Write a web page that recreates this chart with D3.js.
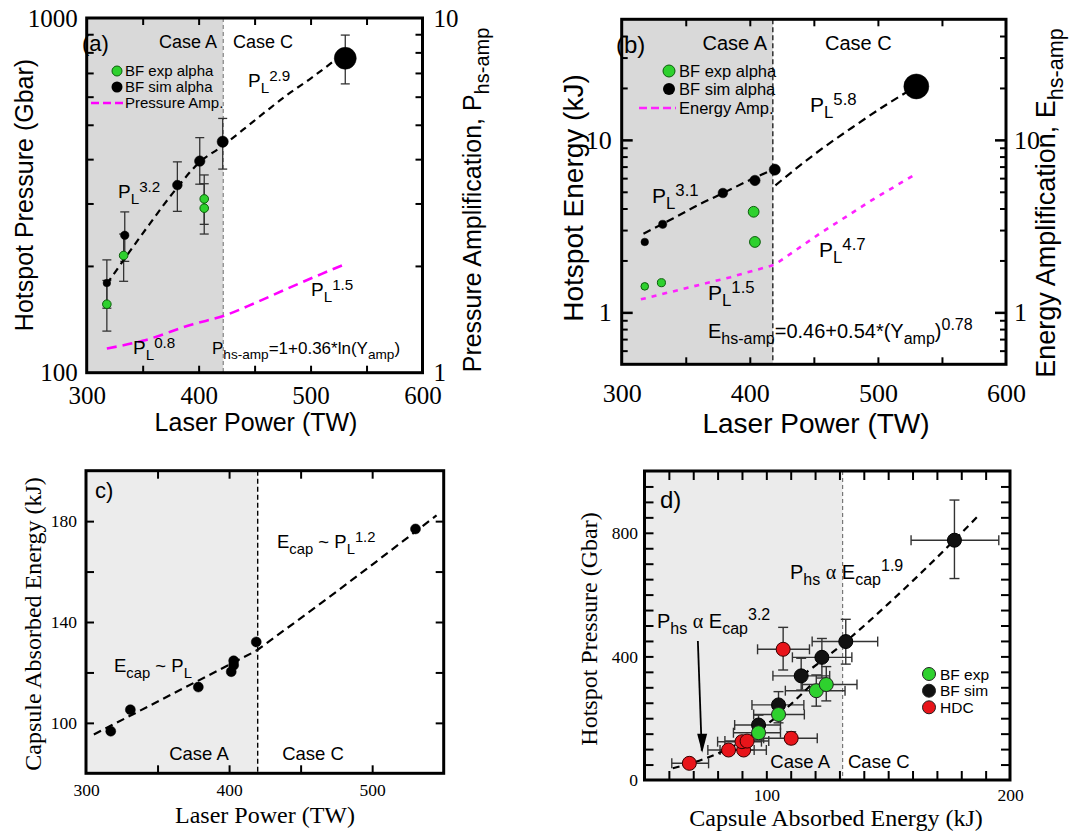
<!DOCTYPE html>
<html><head><meta charset="utf-8">
<script src="https://cdn.jsdelivr.net/npm/d3@7"></script>
<style>body{margin:0;background:#fff}</style>
</head><body><svg id="c" width="1071" height="833"></svg>
<script>
// ================= DATA =================
// Case A / Case C boundaries (laser power, TW) for panels a, b, c ; capsule energy (kJ) for panel d
const caseTW = [422, 418, 420];
const caseKJ = 131.3;

// ---- panel a: hotspot pressure (Gbar) vs laser power (TW)
const aSimTW = [318, 334, 381, 401, 421.5, 531];
const aSimP  = [179, 244, 338, 395, 448, 770];
const aSimLo = [152, 206, 285, 340, 375, 652];
const aSimHi = [208, 284, 393, 460, 521, 895];
const aExpTW = [318, 333, 405, 405];
const aExpP  = [156, 214, 309, 291];
const aExpLo = [131, 181, 262, 246];
const aExpHi = [182, 246, 361, 341];
const aFitTW = [318, 335, 356, 380, 400, 421, 440, 460, 480, 500, 524];
const aFitP  = [178, 212, 262, 330, 390, 435, 485, 545, 610, 675, 770];
const aAmpTW = [318, 350, 395, 422, 450, 480, 510, 532];
const aAmp   = [1.17, 1.23, 1.37, 1.445, 1.57, 1.73, 1.9, 2.03];

// ---- panel b: hotspot energy (kJ) vs laser power (TW)
const bSimTW = [318, 332, 379, 404, 419.5, 530];
const bSimE  = [2.56, 3.24, 4.92, 5.82, 6.72, 20.4];
const bExpTW = [318, 331, 403, 404];
const bExpE  = [1.415, 1.486, 3.83, 2.56];
const bFit1TW = [317, 340, 360, 380, 400, 419.5];
const bFit1E  = [2.86, 3.5, 4.2, 4.95, 5.85, 6.8];
const bFit2TW = [420, 450, 480, 510, 529];
const bFit2E  = [5.45, 8.2, 11.8, 16.6, 20.2];
const bAmpTW = [315, 350, 385, 419.5, 454.6, 495, 530];
const bAmp   = [1.19, 1.38, 1.6, 1.89, 2.86, 4.46, 6.37];

// ---- panel c: capsule absorbed energy (kJ) vs laser power (TW)
const cTW = [317.3, 331, 378.5, 401.5, 403.2, 403.2, 419, 530.3];
const cE  = [96.7, 105.2, 114.2, 120.3, 122.9, 124.6, 132.1, 176.9];
const cFit1TW = [305.5, 419];
const cFit1E  = [95.4, 128.6];
const cFit2TW = [419, 482, 545];
const cFit2E  = [128.6, 155, 182.3];

// ---- panel d: hotspot pressure (Gbar) vs capsule absorbed energy (kJ)
const dSimE   = [96.8, 105, 114.3, 122.8, 132.6, 177.2];
const dSimP   = [178, 243, 337, 397, 448, 776];
const dSimXLo = [87, 94.1, 102.7, 110.7, 118.8, 159.4];
const dSimXHi = [105.8, 115.4, 126, 135.1, 145.7, 195.4];
const dSimYLo = [150, 205, 291, 330, 375, 652];
const dSimYHi = [210, 286, 394, 458, 520, 906];
const dExpE   = [96.8, 105, 120.5, 124.6];
const dExpP   = [153, 212, 289, 309];
const dExpXLo = [86.5, 94.8, 107.8, 114.8];
const dExpXHi = [105.8, 115.6, 132.3, 137.2];
const dExpYLo = [130, 185, 239, 256];
const dExpYHi = [175, 240, 340, 367];
const dHdcE   = [68.4, 84.5, 90.7, 90.0, 92.1, 106.9, 110.2];
const dHdcP   = [54, 97, 97, 124, 126, 423, 135];
const dHdcXLo = [61.2, 76, 81, 80, 83, 96.4, 98.9];
const dHdcXHi = [76.3, 95, 100, 98, 101, 117.7, 120.9];
const dHdcYLo = [45, 85, 85, 110, 112, 356, 118];
const dHdcYHi = [65, 110, 110, 140, 142, 494, 156];
const dFit1E = [61.6, 75, 90, 105, 118];
const dFit1P = [38, 70, 125, 210, 305];
const dFit2E = [115, 132.6, 150, 170, 187.6];
const dFit2P = [340, 448, 570, 720, 860];

// tick values
const aXTicks = [350, 400, 450, 500, 550];
const aXLabels = [300, 400, 500, 600];
const aYMinor = [200, 300, 400, 500, 600, 700, 800, 900];
const aYLabels = [100, 1000];
const aY2Minor = [2, 3, 4, 5, 6, 7, 8, 9];
const aY2Labels = [1, 10];
const bYMinor = [0.6, 0.7, 0.8, 0.9, 2, 3, 4, 5, 6, 7, 8, 9, 20, 30, 40];
const bYMajor = [1, 10];
const cXTicks = [350, 400, 450, 500];
const cXLabels = [300, 400, 500];
const cYTicks = [100, 120, 140, 160, 180];
const cYLabels = [100, 140, 180];
const dXTicks = d3.range(60, 200, 10);
const dXLabels = [100, 200];
const dYTicks = d3.range(50, 1000, 50);
const dYLabels = [0, 400, 800];

// ================= DRAWING =================
const SANS = "'Liberation Sans', Arial, Helvetica, sans-serif";
const SERIF = "'Liberation Serif', 'Times New Roman', Times, serif";
const GREEN = '#2ed12e', GREEN_S = '#0b5e0b', RED = '#e8141a';
const svg = d3.select('#c');
svg.append('rect').attr('width', 1071).attr('height', 833).attr('fill', '#fff');

function zip(a, b) { return a.map((v, i) => [v, b[i]]); }

function rich(g, x, y, parts, size, opts = {}) {
  const t = g.append('text').attr('font-family', opts.family || SANS)
    .attr('font-size', size).attr('fill', '#000');
  if (opts.transform) t.attr('transform', opts.transform); else t.attr('x', x).attr('y', y);
  if (opts.anchor) t.attr('text-anchor', opts.anchor);
  const supShift = opts.sup || 0.33;
  let off = 0;
  parts.forEach(p => {
    const [s, kind, fam] = typeof p === 'string' ? [p, '', null] : p;
    const target = kind === 'sub' ? 0.3 * size : kind === 'sup' ? -supShift * size : 0;
    const ts = t.append('tspan').attr('dy', target - off).text(s)
      .attr('font-size', kind === 'sub' ? size * 0.8 : kind === 'sup' ? size * 0.8 : size);
    if (fam) ts.attr('font-family', fam);
    off = target;
  });
  return t;
}

function ticks(g, orient, scale, vals, pos, len, width) {
  const gen = { b: d3.axisBottom, t: d3.axisTop, l: d3.axisLeft, r: d3.axisRight }[orient](scale)
    .tickValues(vals).tickSizeInner(-len).tickSizeOuter(0).tickFormat('');
  const s = g.append('g')
    .attr('transform', (orient === 'b' || orient === 't') ? `translate(0,${pos})` : `translate(${pos},0)`)
    .call(gen);
  s.select('.domain').remove();
  s.selectAll('line').attr('stroke', '#000').attr('stroke-width', width || 2);
  return s;
}
function labels(g, orient, scale, vals, pos, pad, size, fmt) {
  const gen = { b: d3.axisBottom, t: d3.axisTop, l: d3.axisLeft, r: d3.axisRight }[orient](scale)
    .tickValues(vals).tickSize(0).tickPadding(pad).tickFormat(fmt || (d => d));
  const s = g.append('g')
    .attr('transform', (orient === 'b' || orient === 't') ? `translate(0,${pos})` : `translate(${pos},0)`)
    .call(gen);
  s.select('.domain').remove();
  s.selectAll('line').remove();
  s.selectAll('text').attr('font-family', SERIF).attr('font-size', size).attr('fill', '#000');
  return s;
}
function frame(g, x, y) {
  const [L, R] = x.range(), [B, T] = y.range();
  g.append('rect').attr('x', L).attr('y', T).attr('width', R - L).attr('height', B - T)
    .attr('fill', 'none').attr('stroke', '#000').attr('stroke-width', 3);
}
function vbars(g, x, y, xs, lo, hi, cap, color, w) {
  xs.forEach((xv, i) => {
    const X = x(xv), Y1 = y(lo[i]), Y2 = y(hi[i]);
    g.append('line').attr('x1', X).attr('x2', X).attr('y1', Y1).attr('y2', Y2).attr('stroke', color).attr('stroke-width', w);
    [Y1, Y2].forEach(Y => g.append('line').attr('x1', X - cap).attr('x2', X + cap).attr('y1', Y).attr('y2', Y).attr('stroke', color).attr('stroke-width', w));
  });
}
function hbars(g, x, y, ys, lo, hi, cap, color, w) {
  ys.forEach((yv, i) => {
    const Y = y(yv), X1 = x(lo[i]), X2 = x(hi[i]);
    g.append('line').attr('x1', X1).attr('x2', X2).attr('y1', Y).attr('y2', Y).attr('stroke', color).attr('stroke-width', w);
    [X1, X2].forEach(X => g.append('line').attr('x1', X).attr('x2', X).attr('y1', Y - cap).attr('y2', Y + cap).attr('stroke', color).attr('stroke-width', w));
  });
}
function pts(g, x, y, data, rFn, fill, stroke, sw) {
  g.selectAll(null).data(data).enter().append('circle')
    .attr('cx', d => x(d[0])).attr('cy', d => y(d[1])).attr('r', rFn)
    .attr('fill', fill).attr('stroke', stroke).attr('stroke-width', sw);
}
function path(g, x, y, data, color, w, dash, curve) {
  const line = d3.line().x(d => x(d[0])).y(d => y(d[1])).curve(curve || d3.curveMonotoneX);
  g.append('path').attr('d', line(data)).attr('fill', 'none').attr('stroke', color)
    .attr('stroke-width', w).attr('stroke-dasharray', dash);
}

// ---------------- Panel a ----------------
(function () {
  const g = svg.append('g');
  const x = d3.scaleLinear([300, 600], [86.7, 422.5]);
  const y = d3.scaleLog([100, 1000], [372.7, 18]);
  const y2 = d3.scaleLog([1, 10], [372.7, 18]);
  const [L, R] = x.range(), [B, T] = y.range();
  g.append('rect').attr('x', L).attr('y', T).attr('width', x(caseTW[0]) - L).attr('height', B - T).attr('fill', '#d9d9d9');
  g.append('line').attr('x1', x(caseTW[0])).attr('x2', x(caseTW[0])).attr('y1', T).attr('y2', B)
    .attr('stroke', '#8c8c8c').attr('stroke-width', 1.3).attr('stroke-dasharray', '4,3');
  g.append('text').attr('x', 82).attr('y', 51).attr('font-family', SANS).attr('font-size', 22).text('(a)');
  g.append('text').attr('x', 217).attr('y', 48).attr('text-anchor', 'end').attr('font-family', SANS).attr('font-size', 18).text('Case A');
  g.append('text').attr('x', 233).attr('y', 48).attr('font-family', SANS).attr('font-size', 18).text('Case C');

  vbars(g, x, y, aSimTW, aSimLo, aSimHi, 4.5, '#333', 1.3);
  vbars(g, x, y, aExpTW, aExpLo, aExpHi, 4.5, '#333', 1.3);
  path(g, x, y, zip(aFitTW, aFitP), '#000', 2.2, '7,5');
  path(g, x, y2, zip(aAmpTW, aAmp), '#ff00ff', 2.6, '10,6');
  const rA = d3.scaleLinear([179, 448, 770], [3.8, 5.6, 11]);
  pts(g, x, y, zip(aSimTW, aSimP), d => rA(d[1]), '#000', '#000', 0.5);
  pts(g, x, y, zip(aExpTW, aExpP), 4.3, GREEN, GREEN_S, 1);

  // legend
  g.append('circle').attr('cx', 117).attr('cy', 71).attr('r', 5).attr('fill', GREEN).attr('stroke', GREEN_S);
  g.append('circle').attr('cx', 117).attr('cy', 87).attr('r', 5.5).attr('fill', '#000');
  g.append('line').attr('x1', 91).attr('x2', 124).attr('y1', 103).attr('y2', 103).attr('stroke', '#ff00ff').attr('stroke-width', 2.5).attr('stroke-dasharray', '8,4');
  [['BF exp alpha', 76], ['BF sim alpha', 92], ['Pressure Amp.', 108]].forEach(([s, yy]) =>
    g.append('text').attr('x', 125).attr('y', yy).attr('font-family', SANS).attr('font-size', 15).text(s));

  rich(g, 248, 87, ['P', ['L', 'sub'], ['2.9', 'sup']], 19);
  rich(g, 118, 198, ['P', ['L', 'sub'], ['3.2', 'sup']], 19);
  rich(g, 311, 296, ['P', ['L', 'sub'], ['1.5', 'sup']], 19);
  rich(g, 133, 354, ['P', ['L', 'sub'], ['0.8', 'sup']], 19);
  rich(g, 212, 354, ['P', ['hs-amp', 'sub'], ['=1+0.36*ln(Y', ''], ['amp', 'sub'], [')', '']], 17);

  frame(g, x, y);
  ticks(g, 'b', x, aXTicks, B, 7); ticks(g, 't', x, aXTicks, T, 7);
  ticks(g, 'l', y, aYMinor, L, 7); ticks(g, 'r', y2, aY2Minor, R, 7);
  labels(g, 'b', x, aXLabels, B, 14, 25);
  labels(g, 'l', y, aYLabels, L, 9, 25);
  labels(g, 'r', y2, aY2Labels, R, 11, 25);

  g.append('text').attr('transform', 'translate(33,195) rotate(-90)').attr('text-anchor', 'middle')
    .attr('font-family', SANS).attr('font-size', 25).text('Hotspot Pressure (Gbar)');
  rich(g, 0, 0, ['Pressure Amplification, P', ['hs-amp', 'sub']], 25, { transform: 'translate(481,200) rotate(-90)', anchor: 'middle' });
  g.append('text').attr('x', 256).attr('y', 431).attr('text-anchor', 'middle')
    .attr('font-family', SANS).attr('font-size', 25).text('Laser Power (TW)');
})();

// ---------------- Panel b ----------------
(function () {
  const g = svg.append('g');
  const x = d3.scaleLinear([300, 600], [621.7, 1006]);
  const y = d3.scaleLog([0.5, 50], [364.3, 19.3]);
  const [L, R] = x.range(), [B, T] = y.range();
  g.append('rect').attr('x', L).attr('y', T).attr('width', x(caseTW[1]) - L).attr('height', B - T).attr('fill', '#d9d9d9');
  g.append('line').attr('x1', x(caseTW[1])).attr('x2', x(caseTW[1])).attr('y1', T).attr('y2', B)
    .attr('stroke', '#000').attr('stroke-width', 1.2).attr('stroke-dasharray', '5,3');
  g.append('text').attr('x', 616).attr('y', 53).attr('font-family', SANS).attr('font-size', 24).text('(b)');
  g.append('text').attr('x', 767).attr('y', 50).attr('text-anchor', 'end').attr('font-family', SANS).attr('font-size', 20).text('Case A');
  g.append('text').attr('x', 825).attr('y', 50).attr('font-family', SANS).attr('font-size', 20).text('Case C');

  path(g, x, y, zip(bFit1TW, bFit1E), '#000', 2.2, '8,5');
  path(g, x, y, zip(bFit2TW, bFit2E), '#000', 2.2, '8,5');
  path(g, x, y, zip(bAmpTW, bAmp), '#ff22ff', 2.6, '5,6', d3.curveLinear);
  const rB = d3.scaleLinear([2.56, 6.72, 20.4], [3.8, 5.6, 12.5]);
  pts(g, x, y, zip(bSimTW, bSimE), d => rB(d[1]), '#000', '#000', 0.5);
  const rG = d3.scaleLinear([318, 404], [3.8, 5.4]);
  pts(g, x, y, zip(bExpTW, bExpE), d => rG(d[0]), GREEN, GREEN_S, 1);

  g.append('circle').attr('cx', 669).attr('cy', 71).attr('r', 6).attr('fill', GREEN).attr('stroke', GREEN_S);
  g.append('circle').attr('cx', 669).attr('cy', 89).attr('r', 6).attr('fill', '#000');
  g.append('line').attr('x1', 639).attr('x2', 676).attr('y1', 108).attr('y2', 108).attr('stroke', '#ff22ff').attr('stroke-width', 2.5).attr('stroke-dasharray', '8,4');
  [['BF exp alpha', 77], ['BF sim alpha', 95], ['Energy Amp.', 114]].forEach(([s, yy]) =>
    g.append('text').attr('x', 679).attr('y', yy).attr('font-family', SANS).attr('font-size', 16.5).text(s));

  rich(g, 652, 203, ['P', ['L', 'sub'], ['3.1', 'sup']], 21);
  rich(g, 810, 112, ['P', ['L', 'sub'], ['5.8', 'sup']], 21);
  rich(g, 819, 257, ['P', ['L', 'sub'], ['4.7', 'sup']], 21);
  rich(g, 708, 300, ['P', ['L', 'sub'], ['1.5', 'sup']], 21);
  rich(g, 708, 338, ['E', ['hs-amp', 'sub'], ['=0.46+0.54*(Y', ''], ['amp', 'sub'], [')', ''], ['0.78', 'sup']], 20, { sup: 0.4 });

  frame(g, x, y);
  ticks(g, 'b', x, aXTicks, B, 7); ticks(g, 't', x, aXTicks, T, 7);
  ticks(g, 'l', y, bYMinor, L, 6); ticks(g, 'r', y, bYMinor, R, 6);
  ticks(g, 'l', y, bYMajor, L, 11, 2.5); ticks(g, 'r', y, bYMajor, R, 11, 2.5);
  labels(g, 'b', x, aXLabels, B, 19, 26);
  labels(g, 'l', y, bYMajor, L, 10, 26);
  labels(g, 'r', y, bYMajor, R, 8, 26);

  g.append('text').attr('transform', 'translate(583,198) rotate(-90)').attr('text-anchor', 'middle')
    .attr('font-family', SANS).attr('font-size', 28).text('Hotspot Energy (kJ)');
  rich(g, 0, 0, ['Energy Amplification, E', ['hs-amp', 'sub']], 27, { transform: 'translate(1055,203) rotate(-90)', anchor: 'middle' });
  g.append('text').attr('x', 816).attr('y', 433).attr('text-anchor', 'middle')
    .attr('font-family', SANS).attr('font-size', 28).text('Laser Power (TW)');
})();

// ---------------- Panel c ----------------
(function () {
  const g = svg.append('g');
  const x = d3.scaleLinear([300, 550], [86, 443.7]);
  const y = d3.scaleLinear([80, 200], [773.3, 470.7]);
  const [L, R] = x.range(), [B, T] = y.range();
  g.append('rect').attr('x', L).attr('y', T).attr('width', x(caseTW[2]) - L).attr('height', B - T).attr('fill', '#ececec');
  g.append('line').attr('x1', x(caseTW[2])).attr('x2', x(caseTW[2])).attr('y1', T).attr('y2', B)
    .attr('stroke', '#000').attr('stroke-width', 1.4).attr('stroke-dasharray', '5,3');
  g.append('text').attr('x', 95).attr('y', 498).attr('font-family', SANS).attr('font-size', 22).text('c)');
  g.append('text').attr('x', 199).attr('y', 760).attr('text-anchor', 'middle').attr('font-family', SANS).attr('font-size', 18.5).text('Case A');
  g.append('text').attr('x', 313).attr('y', 760).attr('text-anchor', 'middle').attr('font-family', SANS).attr('font-size', 18.5).text('Case C');

  path(g, x, y, zip(cFit1TW, cFit1E), '#000', 2.2, '8,5', d3.curveLinear);
  path(g, x, y, zip(cFit2TW, cFit2E), '#000', 2.2, '8,5');
  pts(g, x, y, zip(cTW, cE), 5, '#000', '#000', 0.5);

  rich(g, 277, 548, ['E', ['cap', 'sub'], [' ~ P', ''], ['L', 'sub'], ['1.2', 'sup']], 18.5);
  rich(g, 114, 672, ['E', ['cap', 'sub'], [' ~ P', ''], ['L', 'sub']], 18.5);

  frame(g, x, y);
  ticks(g, 'b', x, cXTicks, B, 8); ticks(g, 't', x, cXTicks, T, 8);
  ticks(g, 'l', y, cYTicks, L, 8); ticks(g, 'r', y, cYTicks, R, 8);
  labels(g, 'b', x, cXLabels, B, 10, 17.5);
  labels(g, 'l', y, cYLabels, L, 9, 17.5);

  g.append('text').attr('transform', 'translate(41,624) rotate(-90)').attr('text-anchor', 'middle')
    .attr('font-family', SERIF).attr('font-size', 24).text('Capsule Absorbed Energy (kJ)');
  g.append('text').attr('x', 265).attr('y', 823).attr('text-anchor', 'middle')
    .attr('font-family', SERIF).attr('font-size', 24).text('Laser Power (TW)');
})();

// ---------------- Panel d ----------------
(function () {
  const g = svg.append('g');
  const x = d3.scaleLinear([50, 200], [644.5, 1010]);
  const y = d3.scaleLinear([0, 1000], [780, 471]);
  const [L, R] = x.range(), [B, T] = y.range();
  g.append('rect').attr('x', L).attr('y', T).attr('width', x(caseKJ) - L).attr('height', B - T).attr('fill', '#ebebeb');
  g.append('line').attr('x1', x(caseKJ)).attr('x2', x(caseKJ)).attr('y1', T).attr('y2', B)
    .attr('stroke', '#777').attr('stroke-width', 1.2).attr('stroke-dasharray', '4,3');
  g.append('text').attr('x', 660).attr('y', 508).attr('font-family', SANS).attr('font-size', 24).text('d)');
  g.append('text').attr('x', 830).attr('y', 768).attr('text-anchor', 'end').attr('font-family', SANS).attr('font-size', 18.5).text('Case A');
  g.append('text').attr('x', 848).attr('y', 768).attr('font-family', SANS).attr('font-size', 18.5).text('Case C');

  const ec = '#333';
  hbars(g, x, y, dSimP, dSimXLo, dSimXHi, 5, ec, 1.4);
  vbars(g, x, y, dSimE, dSimYLo, dSimYHi, 5, ec, 1.4);
  hbars(g, x, y, dExpP, dExpXLo, dExpXHi, 5, ec, 1.4);
  vbars(g, x, y, dExpE, dExpYLo, dExpYHi, 5, ec, 1.4);
  hbars(g, x, y, dHdcP, dHdcXLo, dHdcXHi, 5, ec, 1.4);
  vbars(g, x, y, dHdcE, dHdcYLo, dHdcYHi, 5, ec, 1.4);

  path(g, x, y, zip(dFit1E, dFit1P), '#000', 2.2, '7,5');
  path(g, x, y, zip(dFit2E, dFit2P), '#000', 2.2, '7,5');

  pts(g, x, y, zip(dSimE, dSimP), 7, '#111', '#000', 1);
  pts(g, x, y, zip(dExpE, dExpP), 7, GREEN, '#222', 1);
  pts(g, x, y, zip(dHdcE, dHdcP), 7, RED, '#300', 1);

  // arrow
  const arrow = [[71.9, 450], [73.5, 95]];
  g.append('line').attr('x1', x(arrow[0][0])).attr('y1', y(arrow[0][1])).attr('x2', x(arrow[1][0])).attr('y2', y(arrow[1][1]))
    .attr('stroke', '#000').attr('stroke-width', 1.8);
  const ax = x(arrow[1][0]) + 0.4, ay = y(arrow[1][1]);
  g.append('path').attr('d', `M${ax - 5},${ay - 17} L${ax + 5},${ay - 17} L${ax},${ay + 2} Z`).attr('fill', '#000');

  rich(g, 657, 628, ['P', ['hs', 'sub'], [' ', ''], ['\u03b1', '', SERIF], [' E', ''], ['cap', 'sub'], ['3.2', 'sup']], 20, { sup: 0.42 });
  rich(g, 790, 579, ['P', ['hs', 'sub'], [' ', ''], ['\u03b1', '', SERIF], [' E', ''], ['cap', 'sub'], ['1.9', 'sup']], 20, { sup: 0.42 });

  // legend
  [[GREEN, 'BF exp', 674], ['#111', 'BF sim', 690.7], [RED, 'HDC', 707.3]].forEach(([c, s, yy]) => {
    g.append('circle').attr('cx', 929).attr('cy', yy).attr('r', 6.5).attr('fill', c).attr('stroke', '#222');
    g.append('text').attr('x', 940).attr('y', yy + 5.5).attr('font-family', SANS).attr('font-size', 15.5).text(s);
  });

  frame(g, x, y);
  ticks(g, 'b', x, dXTicks, B, 9); ticks(g, 't', x, dXTicks, T, 9);
  ticks(g, 'l', y, dYTicks, L, 9); ticks(g, 'r', y, dYTicks, R, 9);
  labels(g, 'b', x, dXLabels, B, 9, 17.5);
  labels(g, 'l', y, dYLabels, L, 6.5, 17.5);

  g.append('text').attr('transform', 'translate(597,629) rotate(-90)').attr('text-anchor', 'middle')
    .attr('font-family', SERIF).attr('font-size', 24).text('Hotspot Pressure (Gbar)');
  g.append('text').attr('x', 836).attr('y', 826).attr('text-anchor', 'middle')
    .attr('font-family', SERIF).attr('font-size', 24).text('Capsule Absorbed Energy (kJ)');
})();
</script>
</body></html>
